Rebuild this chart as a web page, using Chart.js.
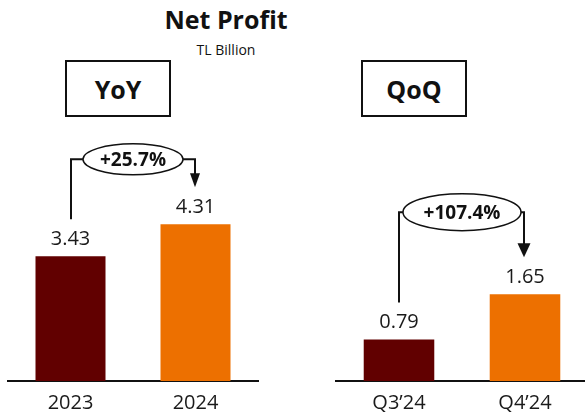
<!DOCTYPE html>
<html lang="en">

<head>
    <meta charset="UTF-8">
    <script src="https://cdn.jsdelivr.net/npm/chart.js"></script>
    <title>Net Profit</title>
    <style>
        html, body { margin: 0; padding: 0; background: #fff; overflow: hidden; }
        body { width: 585px; height: 417px; position: relative; font-family: "Open Sans", sans-serif; color: #111; }
        .txt { position: absolute; text-align: center; line-height: 1; }
        .box { position: absolute; box-sizing: border-box; border: 2px solid #111; width: 106px; height: 57px;
               top: 60px; display: flex; align-items: center; justify-content: center;
               font-weight: bold; font-size: 25px; }
        .wrap { position: absolute; top: 0; height: 425px; }
    </style>
</head>

<body>
    <div class="txt" style="left:126px; width:200px; top:7px; font-size:25px; font-weight:bold;">Net Profit</div>
    <div class="txt" style="left:126px; width:200px; top:43px; font-size:14px;">TL Billion</div>
    <div class="box" style="left:65px;">YoY</div>
    <div class="box" style="left:361px;">QoQ</div>

    <div class="wrap" style="left:0; width:292px;"><canvas id="yoy"></canvas></div>
    <div class="wrap" style="left:292px; width:296px;"><canvas id="qoq"></canvas></div>
</body>

</html>
<script>
    // valores (TL bilhões)
    const anos = ['2023', '2024'];
    const lucroAnual = [3.43, 4.31];
    const trimestres = ['Q3\u201924', 'Q4\u201924'];
    const lucroTrimestral = [0.79, 1.65];
    const variacaoAnual = '+25.7%';
    const variacaoTrimestral = '+107.4%';

    const cores = ['#610000', '#ED7000'];
    const fonte = '"Open Sans", sans-serif';

    // rótulos de valor acima das barras
    const rotulos = {
        id: 'rotulos',
        afterDatasetsDraw(chart) {
            const ctx = chart.ctx;
            const meta = chart.getDatasetMeta(0);
            ctx.save();
            ctx.font = '20px ' + fonte;
            ctx.fillStyle = '#1a1a1a';
            ctx.textAlign = 'center';
            ctx.textBaseline = 'middle';
            meta.data.forEach((bar, i) => {
                ctx.fillText(chart.data.datasets[0].data[i].toFixed(2), bar.x, bar.y - 17);
            });
            ctx.restore();
        }
    };

    // seta de variação entre as barras
    const seta = {
        id: 'seta',
        afterDraw(chart, args, opts) {
            const ctx = chart.ctx;
            const meta = chart.getDatasetMeta(0);
            const b0 = meta.data[0], b1 = meta.data[1];
            const x0 = Math.round(b0.x), x1 = Math.round(b1.x) - 1;
            const yStart = b0.y - 37;
            const yTip = b1.y - 37;
            const yTop = b1.y - opts.subida;
            const cx = (b0.x + b1.x) / 2;

            ctx.save();
            ctx.strokeStyle = '#111';
            ctx.fillStyle = '#111';
            ctx.lineWidth = 2;
            ctx.beginPath();
            ctx.moveTo(x0, yStart);
            ctx.lineTo(x0, yTop);
            ctx.lineTo(x1, yTop);
            ctx.lineTo(x1, yTip - 13);
            ctx.stroke();

            ctx.beginPath();
            ctx.moveTo(x1 - opts.ponta, yTip - 14);
            ctx.lineTo(x1 + opts.ponta, yTip - 14);
            ctx.lineTo(x1, yTip);
            ctx.closePath();
            ctx.fill();

            ctx.beginPath();
            ctx.ellipse(cx, yTop, opts.rx, opts.ry, 0, 0, Math.PI * 2);
            ctx.fillStyle = '#fff';
            ctx.fill();
            ctx.lineWidth = 1.5;
            ctx.stroke();

            ctx.fillStyle = '#111';
            ctx.font = 'bold 19px ' + fonte;
            ctx.textAlign = 'center';
            ctx.textBaseline = 'middle';
            ctx.fillText(opts.texto, cx, yTop + 1);
            ctx.restore();
        }
    };

    function criarGrafico(id, labels, valores, yMax, padLeft, padRight, setaOpts) {
        return new Chart(document.getElementById(id), {
            type: 'bar',
            data: {
                labels: labels,
                datasets: [{
                    data: valores,
                    backgroundColor: cores,
                    barPercentage: 0.56,
                    categoryPercentage: 1
                }]
            },
            options: {
                responsive: true,
                maintainAspectRatio: false,
                animation: false,
                layout: { padding: { left: padLeft, right: padRight, top: 0, bottom: 0 } },
                plugins: {
                    legend: { display: false },
                    tooltip: { enabled: false },
                    seta: setaOpts
                },
                scales: {
                    x: {
                        grid: { display: false, drawTicks: false },
                        border: { display: true, color: '#111', width: 2 },
                        ticks: { color: '#1a1a1a', font: { family: fonte, size: 20 }, padding: 10 }
                    },
                    y: { display: false, min: 0, max: yMax }
                }
            },
            plugins: [rotulos, seta]
        });
    }

    criarGrafico('yoy', anos, lucroAnual, 10.48, 8, 34,
        { texto: variacaoAnual, subida: 65, rx: 50, ry: 15.5, ponta: 5 });
    criarGrafico('qoq', trimestres, lucroTrimestral, 7.24, 44, 0,
        { texto: variacaoTrimestral, subida: 82, rx: 59, ry: 18.5, ponta: 6.5 });
</script>
